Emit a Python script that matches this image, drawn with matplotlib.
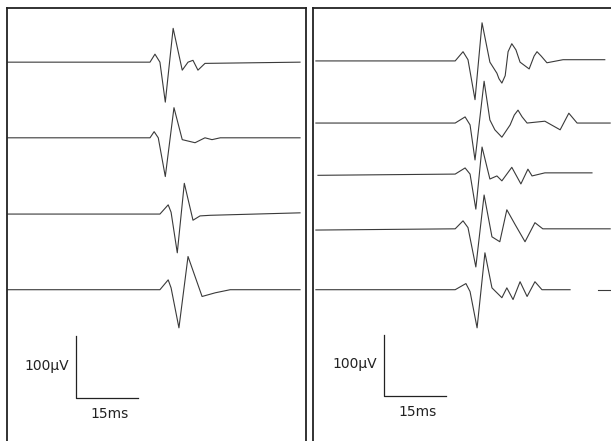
import matplotlib
matplotlib.use('Agg')
import matplotlib.pyplot as plt

# waveform keypoints: time in ms, amplitude in uV relative to each trace's baseline
# left panel, 4 traces
left_baselines = [616, 493, 369, 246]
left_t = [
    [0.2, 34.6, 35.8, 37.0, 38.3, 40.2, 42.4, 43.8, 45.0, 46.2, 47.9, 70.9],
    [0.2, 34.6, 35.6, 36.6, 38.3, 40.4, 42.4, 45.5, 47.9, 49.6, 51.6, 70.9],
    [0.2, 37.0, 39.0, 39.7, 41.2, 42.9, 45.0, 46.7, 49.2, 70.9],
    [0.2, 37.0, 39.0, 39.7, 41.6, 43.8, 47.2, 50.4, 54.0, 70.9],
]
left_amp = [
    [0, 0, 13, 0, -65, 55, -13, 0, 3, -13, -2, 0],
    [0, 0, 10, 0, -63, 49, -3, -8, 0, -3, 0, 0],
    [0, 0, 15, 3, -63, 50, -10, -3, -2, 2],
    [0, 0, 16, 3, -62, 54, -11, -5, 0, 0],
]

# right panel, 5 traces
right_baselines = [618, 517, 434, 345, 246]
right_t = [
    [0.7, 34.4, 36.3, 37.5, 39.2, 40.9, 42.8, 44.5, 45.0, 45.7, 46.5, 47.2, 48.1, 49.1, 50.1, 52.3, 53.5, 54.2, 55.2, 56.6, 60.5, 65.3, 70.6],
    [0.7, 34.4, 36.8, 38.0, 39.2, 41.4, 42.8, 44.0, 45.7, 47.7, 48.7, 49.6, 50.6, 51.8, 56.1, 59.8, 61.9, 63.9, 71.9],
    [1.2, 34.4, 36.8, 38.0, 39.4, 40.9, 42.8, 44.5, 45.7, 48.1, 50.3, 52.0, 53.0, 56.1, 67.5],
    [0.7, 34.4, 36.3, 37.5, 39.4, 41.4, 43.3, 45.2, 46.9, 48.9, 51.3, 53.7, 55.6, 61.0, 71.9],
    [0.7, 34.4, 37.0, 38.0, 39.7, 41.6, 43.3, 45.7, 46.9, 48.4, 50.1, 51.8, 53.7, 55.4, 62.2],
]
right_amp = [
    [0, 0, 15, 2, -63, 62, -2, -20, -29, -36, -24, 15, 28, 18, -2, -13, 8, 15, 8, -3, 2, 2, 2],
    [0, 0, 10, -3, -60, 68, 5, -11, -23, -3, 13, 21, 10, 0, 3, -11, 16, 0, 0],
    [-2, 0, 10, 0, -57, 44, -8, -3, -11, 11, -16, 8, -3, 2, 2],
    [-2, 0, 13, 2, -62, 55, -13, -21, 31, 7, -21, 10, 0, 0, 0],
    [0, 0, 10, -3, -62, 60, 3, -13, 3, -16, 13, -11, 13, 0, 0],
]

# calibration bars (ms, uV) per panel
scale_ms = 15
scale_uv = 100
left_bar_origin = (16.7, 70)
right_bar_origin = (17.2, 73)

W, H = 611, 441
fig = plt.figure(figsize=(W / 100, H / 100), dpi=100)
fig.patch.set_facecolor('white')

px_per_ms = 4.133
px_per_uv = 0.615

def make_panel(left_px, width_px, show_right):
    ax = fig.add_axes([left_px / W, 0, width_px / W, (H - 8) / H])
    ax.set_xlim(0, width_px / px_per_ms)
    ax.set_ylim(0, (H - 8) / px_per_uv)
    ax.set_xticks([])
    ax.set_yticks([])
    ax.spines['bottom'].set_visible(False)
    ax.spines['right'].set_visible(show_right)
    for s in ['left', 'top', 'right']:
        ax.spines[s].set_linewidth(1.3)
        ax.spines[s].set_color('#222222')
    ax.patch.set_alpha(0)
    return ax

def draw_panel(ax, baselines, ts, amps, bar_origin):
    for base, t, a in zip(baselines, ts, amps):
        ax.plot(t, [base + v for v in a], color='#3a3a3a', lw=0.8)
    bx, by = bar_origin
    ax.plot([bx, bx, bx + scale_ms], [by + scale_uv, by, by], color='#222222', lw=0.9)
    ax.text(bx - 1.8, by + 52, '100\u00b5V', ha='right', va='center',
            fontsize=10, color='#222222')
    ax.text(bx + 8, by - 26, '15ms', ha='center', va='center',
            fontsize=10, color='#222222')

ax_left = make_panel(7, 299, True)
draw_panel(ax_left, left_baselines, left_t, left_amp, left_bar_origin)

ax_right = make_panel(313, 300, False)
draw_panel(ax_right, right_baselines, right_t, right_amp, right_bar_origin)
# small trailing segment on last right trace
ax_right.plot([69.0, 71.9], [right_baselines[4], right_baselines[4]], color='#3a3a3a', lw=0.8)

fig.savefig('out.png', dpi=100)
